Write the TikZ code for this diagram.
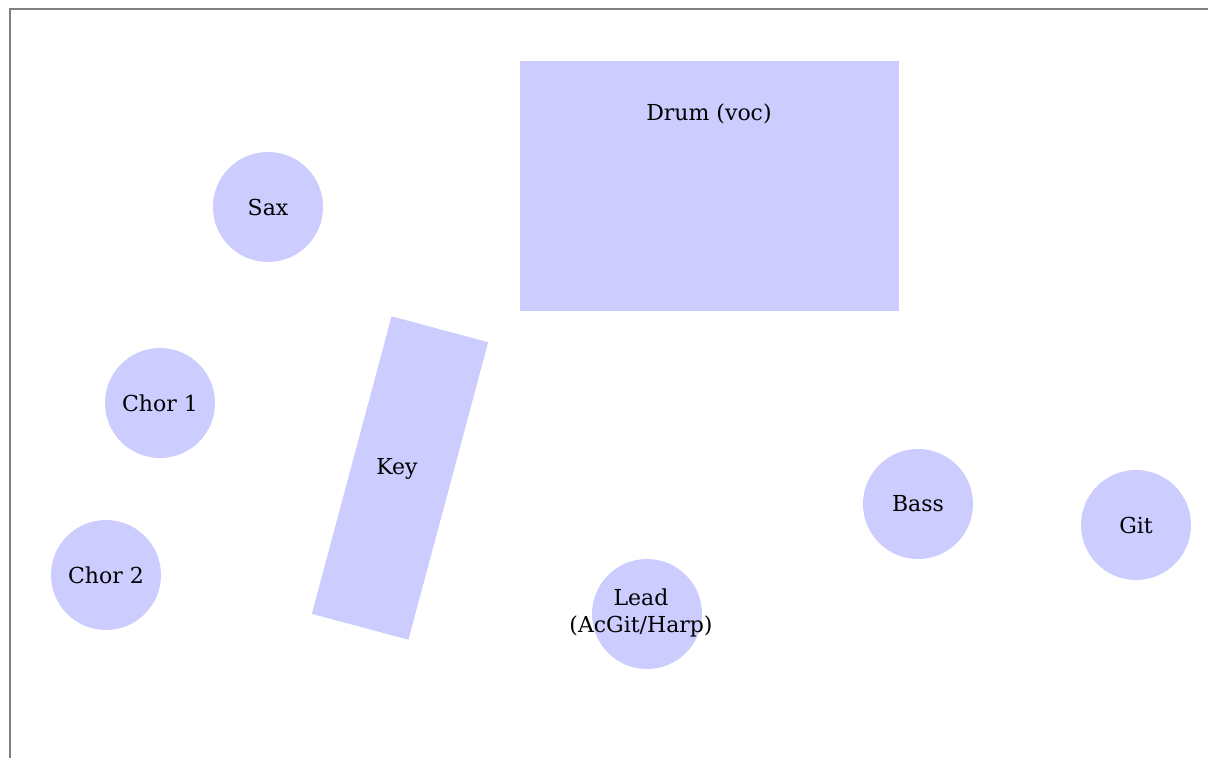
\documentclass[tikz,border=0pt]{standalone}
\usepackage{fontspec}
\setmainfont{DejaVu Serif}
\usetikzlibrary{positioning}

\begin{document}
\begin{tikzpicture}[
    x=1pt, y=-1pt,
    player/.style={circle, fill=blue!20, minimum size=110pt, inner sep=0pt, align=center, font=\fontsize{22}{27}\selectfont},
    riser/.style={rectangle, fill=blue!20, inner sep=0pt},
    lbl/.style={font=\fontsize{22}{27}\selectfont, align=center}
]
\useasboundingbox (0,0) rectangle (1208,758);

% Stage edge
\coordinate (edgeR) at (1208,9);
\coordinate (edgeC) at (10,9);
\coordinate (edgeB) at (10,758);
\draw[gray, line width=2.5pt] (edgeR) -- (edgeC) -- (edgeB);

% Drum riser
\node[riser, minimum width=379pt, minimum height=250pt] (drum) at (709.5,186) {};
\node[lbl] (drumlabel) at (709,114) {Drum (voc)};

% Keyboard
\node[riser, minimum width=100pt, minimum height=308pt, rotate=-15] (key) at (400,478) {};
\node[lbl] (keylabel) at (397,469) {Key};

% Musicians
\node[player] (sax) at (268,207) {Sax};
\node[player] (chor1) at (160,403) {\raisebox{-2pt}{Chor 1}};
\node[player] (chor2) at (106,575) {\raisebox{-2pt}{Chor 2}};
\node[player] (lead) at (647,614) {};
\node[lbl] (leadlabel) at (641,613) {Lead\\(AcGit/Harp)};
\node[player] (bass) at (918,504) {Bass};
\node[player] (git) at (1136,525) {Git};

\end{tikzpicture}
\end{document}
